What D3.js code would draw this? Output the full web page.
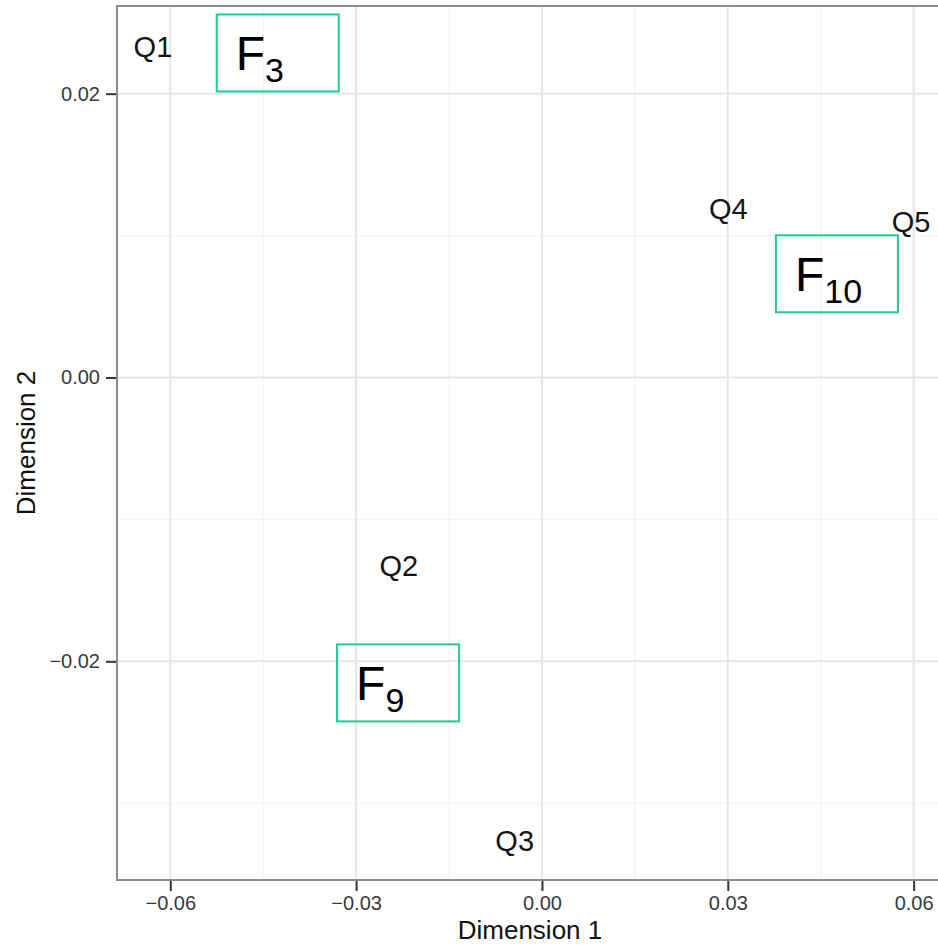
<!DOCTYPE html>
<html>
<head>
<meta charset="utf-8">
<script src="https://cdn.jsdelivr.net/npm/d3@7"></script>
<style>
html,body{margin:0;padding:0;background:#fff;}
svg{display:block;}
</style>
</head>
<body>
<script>
// ---- data ----
const pointLabels = ["Q1","Q2","Q3","Q4","Q5"];
const pointX = [-0.0628, -0.0231, -0.0044, 0.0301, 0.0596];
const pointY = [0.0233, -0.01325, -0.0326, 0.0119, 0.0110];

const boxMain = ["F","F","F"];
const boxSub = ["3","10","9"];
const boxX = [-0.04265, 0.04762, -0.02323];
const boxY = [0.02287, 0.00731, -0.02152];

const xTicks = [-0.06,-0.03,0.00,0.03,0.06];
const xTickLabels = ["\u22120.06","\u22120.03","0.00","0.03","0.06"];
const xMinor = [-0.045,-0.015,0.015,0.045];
const yTicks = [-0.02,0.00,0.02];
const yTickLabels = ["\u22120.02","0.00","0.02"];
const yMinor = [-0.03,-0.01,0.01];

const xTitle = "Dimension 1";
const yTitle = "Dimension 2";

// ---- layout ----
const W = 938, H = 946;
const mLeft = 117, mRight = 943, mTop = 6, mBottom = 880;
const x = d3.scaleLinear().domain([-0.0686, 0.06474]).range([mLeft, mRight]);
const y = d3.scaleLinear().domain([-0.03541, 0.02618]).range([mBottom, mTop]);

const svg = d3.select("body").append("svg").attr("width", W).attr("height", H);
const font = "'Liberation Sans', Arial, Helvetica, sans-serif";

// minor grid
const g = svg.append("g");
g.selectAll("line.xm").data(xMinor).join("line")
  .attr("x1", d=>x(d)).attr("x2", d=>x(d)).attr("y1", mTop).attr("y2", mBottom)
  .attr("stroke", "#f3f3f3").attr("stroke-width", 1.2);
g.selectAll("line.ym").data(yMinor).join("line")
  .attr("y1", d=>y(d)).attr("y2", d=>y(d)).attr("x1", mLeft).attr("x2", mRight)
  .attr("stroke", "#f3f3f3").attr("stroke-width", 1.2);
// major grid
g.selectAll("line.xM").data(xTicks).join("line")
  .attr("x1", d=>x(d)).attr("x2", d=>x(d)).attr("y1", mTop).attr("y2", mBottom)
  .attr("stroke", "#e6e6e6").attr("stroke-width", 2);
g.selectAll("line.yM").data(yTicks).join("line")
  .attr("y1", d=>y(d)).attr("y2", d=>y(d)).attr("x1", mLeft).attr("x2", mRight)
  .attr("stroke", "#e6e6e6").attr("stroke-width", 2);

// panel border
svg.append("rect").attr("x", mLeft).attr("y", mTop)
  .attr("width", mRight-mLeft).attr("height", mBottom-mTop)
  .attr("fill", "none").attr("stroke", "#8c8c8c").attr("stroke-width", 2);

// axes
const xAxis = d3.axisBottom(x).tickValues(xTicks).tickSize(10).tickSizeOuter(0)
  .tickFormat((d,i)=>xTickLabels[i]).tickPadding(5);
const gx = svg.append("g").attr("transform", `translate(0,${mBottom+1})`).call(xAxis);
gx.select(".domain").remove();
gx.selectAll(".tick line").attr("stroke", "#333").attr("stroke-width", 2);
gx.selectAll(".tick text").attr("font-family", font).attr("font-size", 20)
  .attr("fill", "#3a3a3a").attr("dy", "0.71em");

const yAxis = d3.axisLeft(y).tickValues(yTicks).tickSize(10).tickSizeOuter(0)
  .tickFormat((d,i)=>yTickLabels[i]).tickPadding(6);
const gy = svg.append("g").attr("transform", `translate(${mLeft-1},0)`).call(yAxis);
gy.select(".domain").remove();
gy.selectAll(".tick line").attr("stroke", "#333").attr("stroke-width", 2);
gy.selectAll(".tick text").attr("font-family", font).attr("font-size", 20)
  .attr("fill", "#3a3a3a");

// axis titles
svg.append("text").attr("x", (mLeft+mRight)/2).attr("y", 939)
  .attr("text-anchor", "middle").attr("font-family", font).attr("font-size", 26)
  .attr("fill", "#111").text(xTitle);
svg.append("text").attr("transform", `translate(35,${(mTop+mBottom)/2}) rotate(-90)`)
  .attr("text-anchor", "middle").attr("font-family", font).attr("font-size", 26)
  .attr("fill", "#111").text(yTitle);

// point labels
svg.append("g").selectAll("text").data(pointLabels).join("text")
  .attr("x", (d,i)=>x(pointX[i])).attr("y", (d,i)=>y(pointY[i]))
  .attr("text-anchor", "middle").attr("dy", "0.36em")
  .attr("font-family", font).attr("font-size", 29).attr("fill", "#151515")
  .text(d=>d);

// boxes
const bw = 122, bh = 77;
const bg = svg.append("g").selectAll("g").data(boxMain).join("g")
  .attr("transform", (d,i)=>`translate(${x(boxX[i])-bw/2},${y(boxY[i])-bh/2})`);
bg.append("rect").attr("width", bw).attr("height", bh)
  .attr("fill", "none").attr("stroke", "#1fcb9b").attr("stroke-width", 2);
const t = bg.append("text").attr("x", 19).attr("y", 56)
  .attr("font-family", font).attr("font-size", 48).attr("fill", "#000");
t.append("tspan").text(d=>d);
t.append("tspan").attr("font-size", 34).attr("dy", 12).text((d,i)=>boxSub[i]);
</script>
</body>
</html>
